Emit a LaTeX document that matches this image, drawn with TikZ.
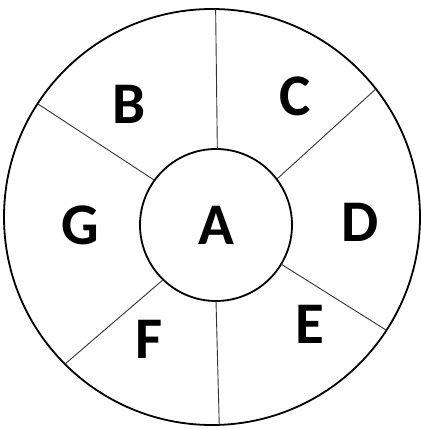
\documentclass[tikz,border=0pt]{standalone}
\usepackage{fontspec}
\setmainfont{Carlito}
\tikzset{
  ring/.style={draw, circle, line width=1.8pt, inner sep=0pt, outer sep=0pt, minimum size=#1},
  spoke/.style={draw=black!80, line width=0.9pt},
  letter/.style={font=\fontsize{59}{59}\selectfont\bfseries, inner sep=0pt},
}
\begin{document}
\begin{tikzpicture}[x=1pt,y=-1pt]
  \useasboundingbox (0,0) rectangle (420,430);
  % outer ring and hub
  \node[ring=416] (outer) at (212,217) {};
  \node[ring=152, letter] (A) at (216,225) {A};
  % spokes: hub angle / ring angle
  \foreach \a/\b in {89/89, 144/147, 37/38, -31/-33, 226/225, 270/272}
    \draw[spoke] (A.\a) -- (outer.\b);
  % sector letters
  \node[letter] (B) at (128.7,104) {B};
  \node[letter] (C) at (295.5,96.3) {C};
  \node[letter] (D) at (360,222.5) {D};
  \node[letter] (E) at (309.7,324.7) {E};
  \node[letter] (F) at (148.7,339.7) {F};
  \node[letter] (G) at (80.5,225.5) {G};
\end{tikzpicture}
\end{document}
